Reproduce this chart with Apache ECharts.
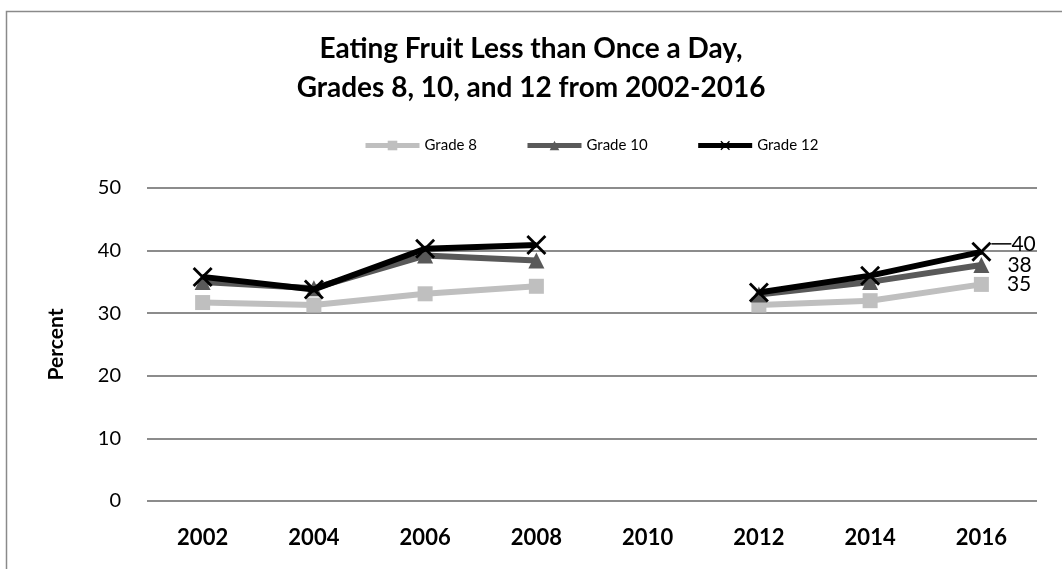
<!DOCTYPE html>
<html>
<head>
<meta charset="utf-8">
<script src="https://cdn.jsdelivr.net/npm/echarts@6/dist/echarts.min.js"></script>
<style>
  html, body { margin: 0; padding: 0; background: #fff; }
  #chart { width: 1062px; height: 569px; }
</style>
</head>
<body>
<div id="chart"></div>
<script>
// 年份（2010 无数据）
const years = ['2002', '2004', '2006', '2008', '2010', '2012', '2014', '2016']
const grade8 = [31.7, 31.3, 33.1, 34.3, null, 31.3, 32.0, 34.6]
const grade10 = [35.0, 34.0, 39.2, 38.4, null, 33.0, 35.0, 37.7]
const grade12 = [35.8, 33.8, 40.3, 40.9, null, 33.3, 36.0, 39.8]
const yTicks = [0, 10, 20, 30, 40, 50]

const FONT = 'Lato, "Liberation Sans", sans-serif'
const crossPath = 'path://M2,0 L10,8 L18,0 L20,2 L12,10 L20,18 L18,20 L10,12 L2,20 L0,18 L8,10 L0,2 Z'

// 只给最后一个点加数据标签
function withEndLabel (arr, label) {
  return arr.map((v, i) => i === arr.length - 1
    ? { value: v, label: Object.assign({ show: true, position: 'right', fontFamily: FONT, fontSize: 21, color: '#000', formatter: p => Math.round(p.value) }, label) }
    : v)
}

const chart = echarts.init(document.getElementById('chart'))
chart.setOption({
  animation: false,
  backgroundColor: '#fff',
  title: {
    text: 'Eating Fruit Less than Once a Day,\nGrades 8, 10, and 12 from 2002-2016',
    left: 'center',
    top: 24,
    textStyle: { fontFamily: FONT, fontSize: 28, fontWeight: 'bold', color: '#000', lineHeight: 39 }
  },
  legend: {
    top: 133,
    left: 358,
    itemWidth: 54,
    itemHeight: 12,
    itemGap: 48,
    lineStyle: { width: 5 },
    textStyle: { fontFamily: FONT, fontSize: 15, color: '#000' },
    data: ['Grade 8', 'Grade 10', 'Grade 12']
  },
  graphic: [{
    type: 'rect',
    left: 4,
    top: 9,
    shape: { width: 1100, height: 600 },
    style: { fill: 'none', stroke: '#8a8a8a', lineWidth: 1.5 },
    silent: true
  }],
  grid: { left: 147, right: 25, top: 188, bottom: 68 },
  xAxis: {
    type: 'category',
    data: years,
    boundaryGap: true,
    axisLine: { show: false },
    axisTick: { show: false },
    axisLabel: { fontFamily: FONT, fontSize: 22, fontWeight: 'bold', color: '#000', margin: 26 }
  },
  yAxis: {
    type: 'value',
    min: yTicks[0],
    max: yTicks[yTicks.length - 1],
    interval: 10,
    name: 'Percent',
    nameLocation: 'middle',
    nameGap: 80,
    nameTextStyle: { fontFamily: FONT, fontSize: 21, fontWeight: 'bold', color: '#000' },
    axisLine: { show: false },
    axisTick: { show: false },
    axisLabel: { fontFamily: FONT, fontSize: 20, color: '#000', margin: 26 },
    splitLine: { lineStyle: { color: '#8c8c8c', width: 2 } }
  },
  series: [
    {
      name: 'Grade 8',
      type: 'line',
      data: withEndLabel(grade8, { distance: 18 }),
      color: '#bfbfbf',
      lineStyle: { width: 6 },
      symbol: 'rect',
      symbolSize: 15,
      z: 2
    },
    {
      name: 'Grade 10',
      type: 'line',
      data: withEndLabel(grade10, { distance: 18 }),
      color: '#595959',
      lineStyle: { width: 6 },
      symbol: 'triangle',
      symbolSize: 16,
      z: 3
    },
    {
      name: 'Grade 12',
      type: 'line',
      data: withEndLabel(grade12, { distance: 12 }),
      color: '#000',
      lineStyle: { width: 6 },
      symbol: crossPath,
      symbolSize: 20,
      labelLayout: { dy: -8, dx: 8 },
      labelLine: { show: true, lineStyle: { color: '#000', width: 1.5 } },
      z: 4
    }
  ]
})
</script>
</body>
</html>
